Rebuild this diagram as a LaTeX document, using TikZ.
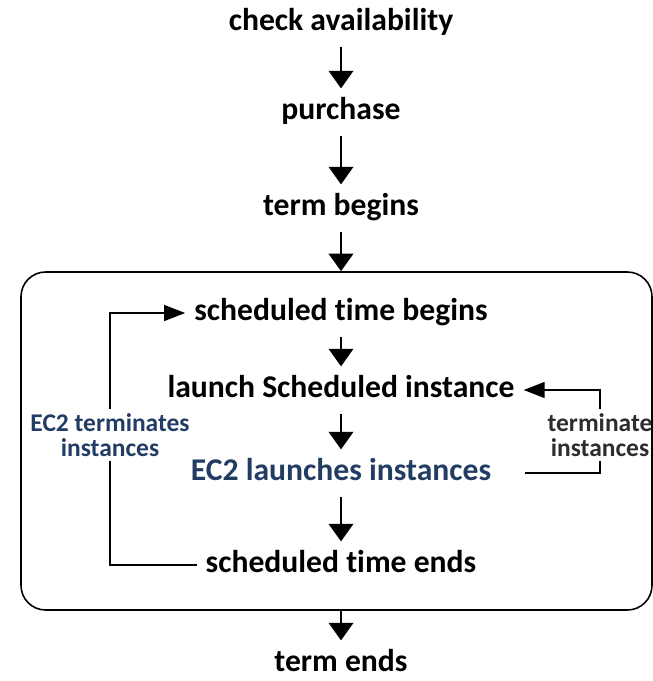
\documentclass[tikz,border=0pt]{standalone}
\usepackage{fontspec}
\setmainfont{Carlito}[Ligatures={NoCommon,NoRare}]
\usetikzlibrary{arrows.meta}
\definecolor{ec2blue}{RGB}{35,60,100}
\definecolor{notegray}{RGB}{45,45,45}
\tikzstyle{stage} = [font=\fontsize{18}{21}\selectfont\bfseries, text height=12.5pt, text depth=4pt, inner sep=5pt, text centered]
\tikzstyle{note} = [font=\fontsize{14.5}{14.5}\selectfont\bfseries, text=ec2blue, align=center, inner sep=2pt]
\tikzstyle{frame} = [draw, line width=0.9pt, rounded corners=14pt, minimum width=12.62cm, minimum height=6.76cm, inner sep=0pt]
\tikzstyle{arrow} = [line width=1.1pt, -{Triangle[width=14pt,length=10pt]}]
\tikzstyle{looparrow} = [line width=1.1pt, -{Triangle[width=9pt,length=12pt]}]
\tikzstyle{loopline} = [line width=1.1pt]

\begin{document}
\begin{tikzpicture}
\useasboundingbox (0,0) rectangle (13.04,-13.62);
\node (frame) [frame] at (6.73,-8.82) {};

\node (check) [stage] at (6.82,-0.46) {check availability};
\node (purchase) [stage, node distance=1.78cm, below of=check] {purchase};
\node (tbeg) [stage, node distance=1.92cm, below of=purchase] {term begins};
\node (sbeg) [stage, node distance=2.1cm, below of=tbeg] {scheduled time begins};
\node (launch) [stage, node distance=1.54cm, below of=sbeg] {launch Scheduled instance};
\node (ec2l) [stage, text=ec2blue, node distance=1.66cm, below of=launch] {EC2 launches instances};
\node (send) [stage, node distance=1.84cm, below of=ec2l] {scheduled time ends};
\node (tend) [stage, node distance=1.98cm, below of=send] {term ends};

\node (ec2t) [note] at (2.2,-8.70) {EC2 terminates\\instances};
\node (term) [note, text=notegray] at (12.0,-8.70) {terminate\\instances};

\draw [arrow] (check) -- (purchase);
\draw [arrow] (purchase) -- (tbeg);
\draw [arrow] (tbeg) -- (tbeg |- frame.north);
\draw [arrow] (sbeg) -- (launch);
\draw [arrow] (launch) -- (ec2l);
\draw [arrow] (ec2l) -- (send);
\draw [arrow] (send |- frame.south) -- (tend);

\draw [looparrow] (ec2t) |- (sbeg);
\draw [loopline] (ec2t) |- (send);
\draw [looparrow] (term) |- (launch);
\draw [loopline, shorten >=14pt] (term) |- (ec2l);
\end{tikzpicture}
\end{document}
